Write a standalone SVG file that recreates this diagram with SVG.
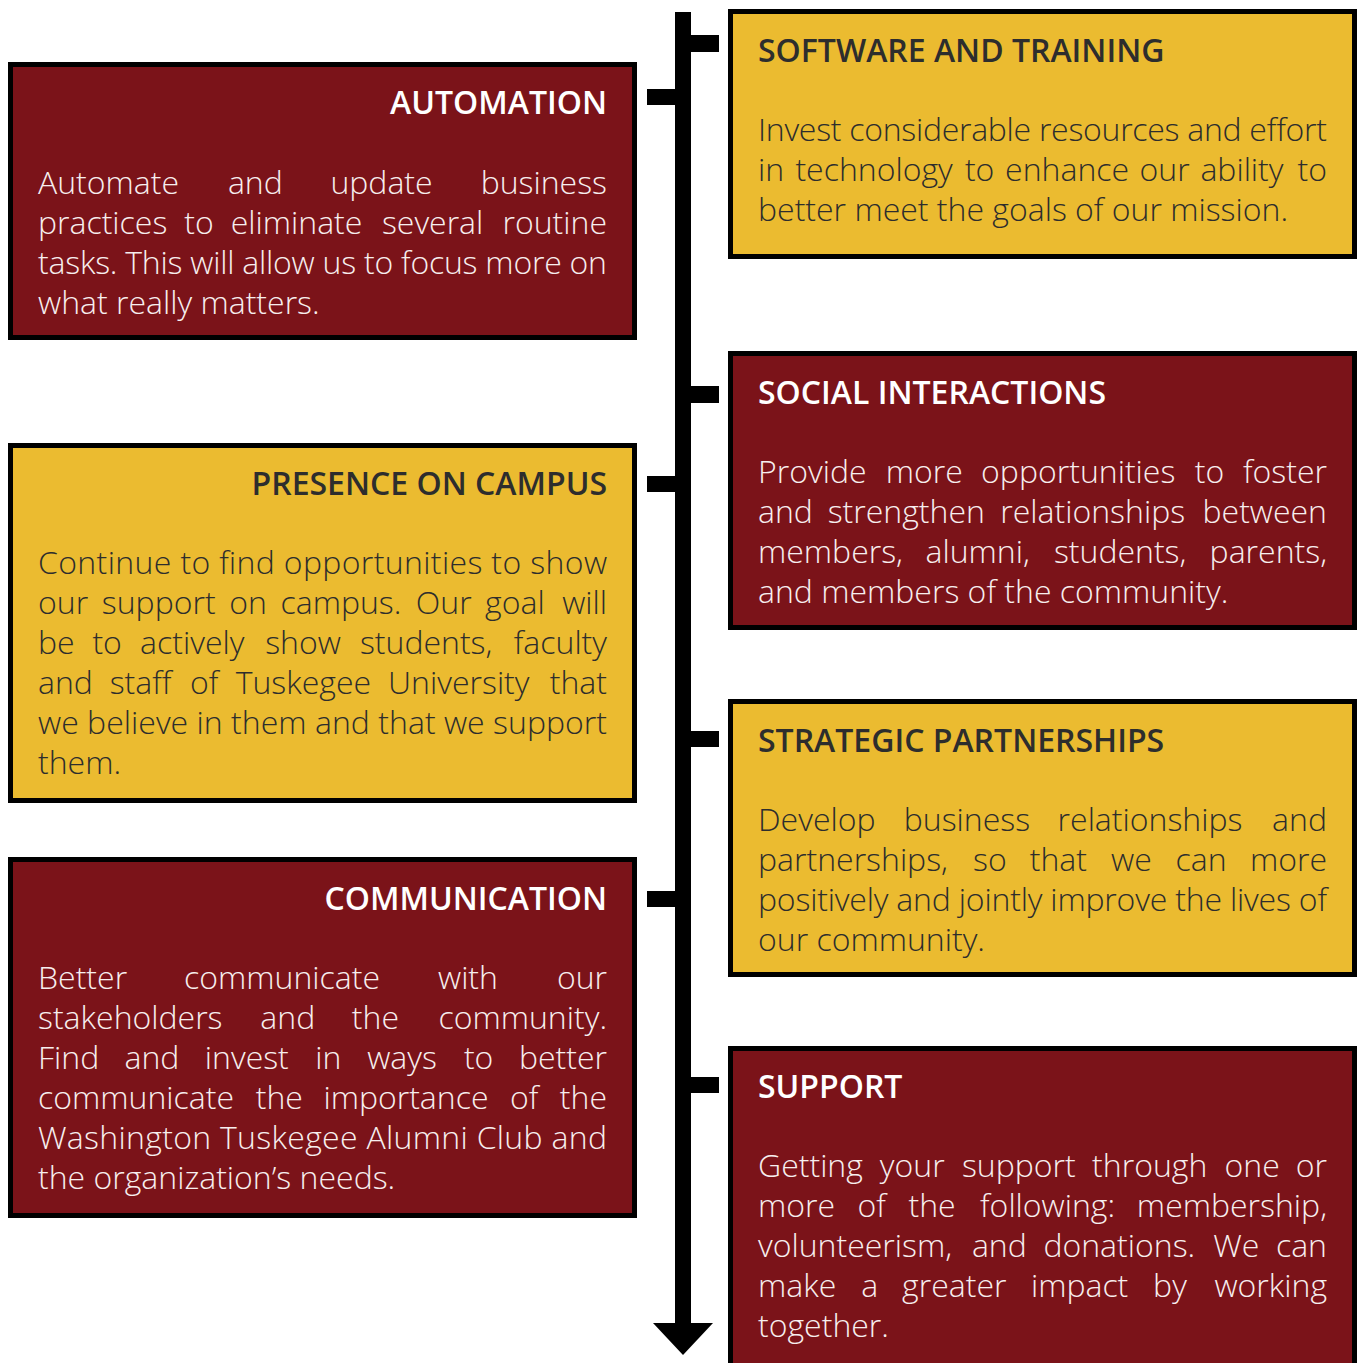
<svg xmlns="http://www.w3.org/2000/svg" width="1357" height="1363" viewBox="0 0 1357 1363">
<style>
.red{fill:#7b1319;stroke:#000;stroke-width:5}
.yel{fill:#ebbb30;stroke:#000;stroke-width:5}
.h{font-family:"Open Sans","Liberation Sans",sans-serif;font-weight:600;font-size:32px}
.b{font-family:"Open Sans","Liberation Sans",sans-serif;font-weight:300;font-size:32px}
.lt{fill:#f7eeee}
.lh{fill:#ffffff}
.dk{fill:#2d2d2d}
.e{text-anchor:end}
.bar{fill:#000}
</style>
<rect x="0" y="0" width="1357" height="1363" fill="#fff"/>

<g id="connectors">
<rect class="bar" x="675" y="12" width="16" height="1315"/>
<polygon class="bar" points="653,1323 713,1323 683,1355"/>
<rect class="bar" x="691" y="35" width="28" height="17"/>
<rect class="bar" x="691" y="386" width="28" height="17"/>
<rect class="bar" x="691" y="731" width="28" height="16"/>
<rect class="bar" x="691" y="1077" width="28" height="16"/>
<rect class="bar" x="647" y="89" width="28" height="16"/>
<rect class="bar" x="647" y="476" width="28" height="16"/>
<rect class="bar" x="647" y="891" width="28" height="16"/>
</g>

<g id="automation">
<rect class="red" x="10.5" y="64.5" width="624" height="273"/>
<text class="h lh e" x="607" y="114">AUTOMATION</text>
<text class="b lt" y="194"><tspan x="38">Automate</tspan><tspan x="227.9">and</tspan><tspan x="330.4">update</tspan><tspan x="607" class="e">business</tspan></text>
<text class="b lt" y="234"><tspan x="38">practices</tspan><tspan x="184.2">to</tspan><tspan x="230.7">eliminate</tspan><tspan x="381.9">several</tspan><tspan x="607" class="e">routine</tspan></text>
<text class="b lt" x="38" y="274" textLength="569" lengthAdjust="spacing">tasks. This will allow us to focus more on</text>
<text class="b lt" x="38" y="314">what really matters.</text>
</g>

<g id="software">
<rect class="yel" x="730.5" y="11.5" width="624" height="245"/>
<text class="h dk" x="758" y="62">SOFTWARE AND TRAINING</text>
<text class="b dk" x="758" y="141" textLength="569" lengthAdjust="spacing">Invest considerable resources and effort</text>
<text class="b dk" y="181"><tspan x="758">in</tspan><tspan x="795.4">technology</tspan><tspan x="964.9">to</tspan><tspan x="1005.1">enhance</tspan><tspan x="1139.5">our</tspan><tspan x="1200.4">ability</tspan><tspan x="1327" class="e">to</tspan></text>
<text class="b dk" x="758" y="221">better meet the goals of our mission.</text>
</g>

<g id="social">
<rect class="red" x="730.5" y="353.5" width="624" height="274"/>
<text class="h lh" x="758" y="404">SOCIAL INTERACTIONS</text>
<text class="b lt" y="483"><tspan x="758">Provide</tspan><tspan x="885.8">more</tspan><tspan x="981.1">opportunities</tspan><tspan x="1194.7">to</tspan><tspan x="1327" class="e">foster</tspan></text>
<text class="b lt" y="523"><tspan x="758">and</tspan><tspan x="827.7">strengthen</tspan><tspan x="1000.3">relationships</tspan><tspan x="1327" class="e">between</tspan></text>
<text class="b lt" y="563"><tspan x="758">members,</tspan><tspan x="925.5">alumni,</tspan><tspan x="1053.9">students,</tspan><tspan x="1327" class="e">parents,</tspan></text>
<text class="b lt" x="758" y="603">and members of the community.</text>
</g>

<g id="presence">
<rect class="yel" x="10.5" y="445.5" width="624" height="355"/>
<text class="h dk e" x="607" y="495">PRESENCE ON CAMPUS</text>
<text class="b dk" x="38" y="574" textLength="569" lengthAdjust="spacing">Continue to find opportunities to show</text>
<text class="b dk" y="614"><tspan x="38">our</tspan><tspan x="101.8">support</tspan><tspan x="229.3">on</tspan><tspan x="280.5">campus.</tspan><tspan x="415.8">Our</tspan><tspan x="485.1">goal</tspan><tspan x="607" class="e">will</tspan></text>
<text class="b dk" y="654"><tspan x="38">be</tspan><tspan x="92.4">to</tspan><tspan x="140.1">actively</tspan><tspan x="265.2">show</tspan><tspan x="359.9">students,</tspan><tspan x="607" class="e">faculty</tspan></text>
<text class="b dk" y="694"><tspan x="38">and</tspan><tspan x="109.7">staff</tspan><tspan x="190.1">of</tspan><tspan x="235.7">Tuskegee</tspan><tspan x="388.1">University</tspan><tspan x="607" class="e">that</tspan></text>
<text class="b dk" x="38" y="734" textLength="569" lengthAdjust="spacing">we believe in them and that we support</text>
<text class="b dk" x="38" y="774">them.</text>
</g>

<g id="strategic">
<rect class="yel" x="730.5" y="701.5" width="624" height="273"/>
<text class="h dk" x="758" y="752">STRATEGIC PARTNERSHIPS</text>
<text class="b dk" y="831"><tspan x="758">Develop</tspan><tspan x="903.7">business</tspan><tspan x="1057.6">relationships</tspan><tspan x="1327" class="e">and</tspan></text>
<text class="b dk" y="871"><tspan x="758">partnerships,</tspan><tspan x="973.1">so</tspan><tspan x="1029.7">that</tspan><tspan x="1111">we</tspan><tspan x="1175.6">can</tspan><tspan x="1327" class="e">more</tspan></text>
<text class="b dk" x="758" y="911" textLength="569" lengthAdjust="spacing">positively and jointly improve the lives of</text>
<text class="b dk" x="758" y="951">our community.</text>
</g>

<g id="communication">
<rect class="red" x="10.5" y="859.5" width="624" height="356"/>
<text class="h lh e" x="607" y="910">COMMUNICATION</text>
<text class="b lt" y="989"><tspan x="38">Better</tspan><tspan x="184">communicate</tspan><tspan x="438">with</tspan><tspan x="607" class="e">our</tspan></text>
<text class="b lt" y="1029"><tspan x="38">stakeholders</tspan><tspan x="260.3">and</tspan><tspan x="351.8">the</tspan><tspan x="607" class="e">community.</tspan></text>
<text class="b lt" y="1069"><tspan x="38">Find</tspan><tspan x="124.5">and</tspan><tspan x="204.8">invest</tspan><tspan x="315.3">in</tspan><tspan x="367.2">ways</tspan><tspan x="463.9">to</tspan><tspan x="607" class="e">better</tspan></text>
<text class="b lt" y="1109"><tspan x="38">communicate</tspan><tspan x="255.7">the</tspan><tspan x="323.4">importance</tspan><tspan x="510.1">of</tspan><tspan x="607" class="e">the</tspan></text>
<text class="b lt" x="38" y="1149" textLength="569" lengthAdjust="spacing">Washington Tuskegee Alumni Club and</text>
<text class="b lt" x="38" y="1189">the organization’s needs.</text>
</g>

<g id="support">
<rect class="red" x="730.5" y="1048.5" width="624" height="330"/>
<text class="h lh" x="758" y="1098">SUPPORT</text>
<text class="b lt" y="1177"><tspan x="758">Getting</tspan><tspan x="879.8">your</tspan><tspan x="961.9">support</tspan><tspan x="1092.1">through</tspan><tspan x="1224.6">one</tspan><tspan x="1327" class="e">or</tspan></text>
<text class="b lt" y="1217"><tspan x="758">more</tspan><tspan x="857.5">of</tspan><tspan x="908.5">the</tspan><tspan x="980">following:</tspan><tspan x="1327" class="e">membership,</tspan></text>
<text class="b lt" y="1257"><tspan x="758">volunteerism,</tspan><tspan x="971.9">and</tspan><tspan x="1043.4">donations.</tspan><tspan x="1213.3">We</tspan><tspan x="1327" class="e">can</tspan></text>
<text class="b lt" y="1297"><tspan x="758">make</tspan><tspan x="861.3">a</tspan><tspan x="902.1">greater</tspan><tspan x="1030.9">impact</tspan><tspan x="1153.1">by</tspan><tspan x="1327" class="e">working</tspan></text>
<text class="b lt" x="758" y="1337">together.</text>
</g>
</svg>
